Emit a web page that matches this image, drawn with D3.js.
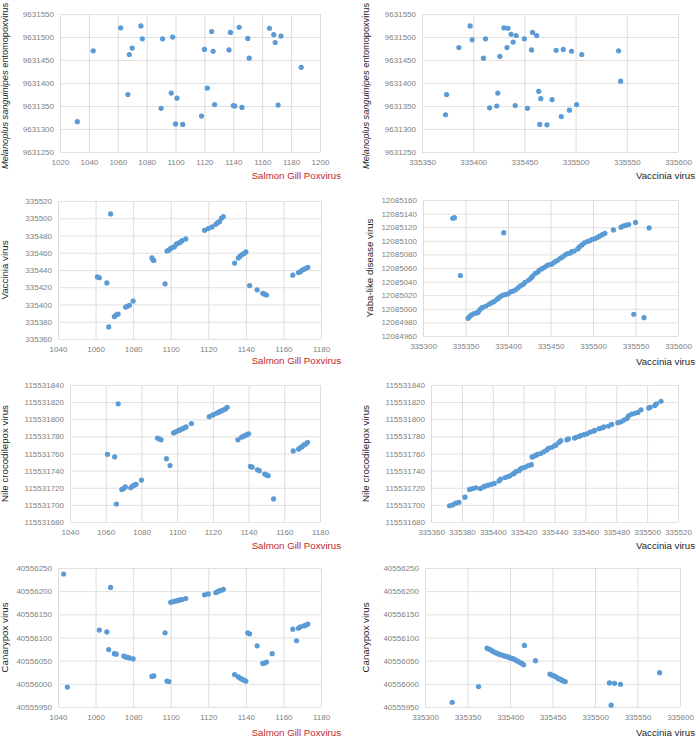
<!DOCTYPE html>
<html><head><meta charset="utf-8">
<script src="https://cdn.jsdelivr.net/npm/d3@7/dist/d3.min.js"></script>
<style>
html,body{margin:0;padding:0;background:#fff;}
svg{display:block;}
.tick-label{font-family:"Liberation Sans",Arial,sans-serif;font-size:8px;fill:#7f7f7f;}
.axis-title{font-family:"Liberation Sans",Arial,sans-serif;font-size:9.7px;}
</style>
</head><body>
<script>
// ---------- DATA ----------
// Panel 1: Salmon Gill Poxvirus vs Melanoplus sanguinipes entomopoxvirus
const p1Salmon = [1032,1043,1062,1067,1068,1070,1076,1077,1090,1091,1097,1098,1100,1101,1105,1118,1120,1122,1125,1126,1127,1137,1138,1140,1141,1144,1146,1150,1151,1165,1168,1169,1171,1173,1187];
const p1Melanoplus = [9631316,9631470,9631520,9631375,9631462,9631476,9631524,9631496,9631345,9631496,9631378,9631500,9631311,9631367,9631310,9631328,9631473,9631389,9631512,9631469,9631353,9631472,9631510,9631351,9631350,9631521,9631347,9631497,9631454,9631519,9631505,9631488,9631352,9631502,9631434];

// Panel 2: Vaccinia virus vs Melanoplus sanguinipes entomopoxvirus
const p2Vaccinia = [335373,335374,335386,335397,335399,335410,335412,335416,335423,335424,335426,335430,335433,335434,335437,335439,335441,335442,335450,335453,335457,335458,335462,335464,335465,335466,335472,335477,335481,335486,335488,335494,335496,335501,335506,335542,335544];
const p2Melanoplus = [9631331,9631375,9631477,9631524,9631494,9631454,9631496,9631346,9631350,9631378,9631458,9631520,9631477,9631519,9631506,9631489,9631351,9631503,9631496,9631345,9631472,9631510,9631503,9631382,9631310,9631366,9631309,9631364,9631471,9631327,9631473,9631341,9631469,9631353,9631462,9631470,9631404];

// Panel 3: Salmon Gill Poxvirus vs Vaccinia virus
const p3Salmon = [1068,1061,1062,1066,1067,1070,1071,1072,1076,1077,1078,1080,1090,1090.5,1091,1097,1098,1099,1100,1101,1102,1103,1104,1105,1106,1108,1118,1120,1122,1124,1125,1126,1127,1128,1134,1136,1137,1138,1139,1140,1142,1146,1149,1150,1151,1165,1168,1169,1170,1171,1172,1173];
const p3Vaccinia = [335505,335432,335431,335425,335374,335386,335388,335389,335397,335398,335399,335404,335454,335452,335451,335424,335462,335463,335465,335466,335467,335470,335471,335472,335474,335476,335486,335488,335490,335493,335495,335496,335500,335502,335448,335454,335456,335458,335459,335461,335422,335417,335413,335412,335411,335434,335437,335438,335440,335441,335442,335443];

// Panel 4: Vaccinia virus vs Yaba-like disease virus
const p4Vaccinia = [335335,335337,335344,335395,335353,335355,335357,335360,335363,335365,335367,335369,335370,335374,335378,335381,335384,335387,335389,335391,335394,335397,335400,335403,335406,335409,335412,335415,335418,335420,335424,335427,335429,335432,335435,335437,335440,335443,335446,335449,335452,335455,335458,335461,335464,335467,335470,335473,335475,335478,335482,335484,335487,335490,335493,335496,335499,335502,335505,335508,335511,335514,335524,335533,335536,335539,335542,335550,335566,335548,335560];
const p4Yaba = [12085133,12085134,12085049,12085112,12084986,12084989,12084991,12084993,12084994,12084995,12084999,12085001,12085002,12085004,12085007,12085009,12085011,12085014,12085016,12085018,12085020,12085021,12085022,12085025,12085026,12085028,12085031,12085034,12085036,12085039,12085042,12085045,12085048,12085052,12085054,12085057,12085059,12085061,12085064,12085065,12085066,12085069,12085071,12085074,12085076,12085079,12085081,12085082,12085084,12085085,12085088,12085091,12085094,12085097,12085099,12085100,12085102,12085103,12085105,12085107,12085109,12085111,12085116,12085120,12085122,12085123,12085124,12085127,12085119,12084992,12084987];

// Panel 5: Salmon Gill Poxvirus vs Nile crocodilepox virus
const p5Salmon = [1067,1061,1065,1066,1069,1070,1071,1074,1075,1076,1077,1080,1089,1090,1091,1094,1096,1098,1099,1100,1101,1102,1103,1104,1105,1108,1118,1120,1122,1123,1124,1125,1126,1127,1128,1134,1136,1137,1138,1139,1140,1141,1142,1145,1146,1149,1150,1151,1154,1165,1168,1169,1170,1171,1172,1173];
const p5Nile = [115531818,115531759,115531756,115531701,115531718,115531719,115531721,115531720,115531722,115531723,115531724,115531729,115531778,115531777,115531776,115531754,115531746,115531784,115531785,115531786,115531787,115531788,115531789,115531790,115531791,115531795,115531803,115531805,115531807,115531808,115531809,115531810,115531811,115531812,115531814,115531776,115531779,115531780,115531781,115531782,115531783,115531745,115531744,115531741,115531740,115531736,115531735,115531734,115531707,115531763,115531765,115531767,115531768,115531770,115531771,115531773];

// Panel 6: Vaccinia virus vs Nile crocodilepox virus
const p6Vaccinia = [335372,335374,335376,335378,335382,335385,335387,335389,335392,335394,335395,335397,335399,335401,335404,335405,335408,335410,335411,335413,335414,335415,335417,335418,335419,335421,335423,335425,335425.5,335427,335428,335429,335431,335433,335435,335436,335438,335440,335441,335443,335444,335448,335449,335453,335454,335456,335457,335459,335461,335463,335465,335466,335469,335471,335472,335475,335477,335481,335483,335485,335487,335488,335490,335492,335494,335496,335501,335502,335505,335506,335509];
const p6Nile = [115531699,115531700,115531702,115531703,115531709,115531718,115531719,115531720,115531719,115531721,115531722,115531723,115531724,115531725,115531728,115531730,115531732,115531733,115531734,115531736,115531737,115531739,115531740,115531742,115531743,115531744,115531746,115531747,115531756,115531757,115531758,115531759,115531760,115531762,115531764,115531766,115531767,115531769,115531770,115531773,115531775,115531776,115531777,115531778,115531779,115531780,115531781,115531782,115531783,115531785,115531786,115531787,115531789,115531790,115531791,115531792,115531794,115531796,115531797,115531799,115531801,115531804,115531806,115531807,115531808,115531811,115531813,115531814,115531816,115531818,115531821];

// Panel 7: Salmon Gill Poxvirus vs Canarypox virus
const p7Salmon = [1043,1045,1068,1062,1066,1067,1070,1071,1075,1076,1077,1078,1080,1090,1091,1097,1098,1099,1100,1101,1102,1103,1104,1105,1106,1108,1118,1120,1124,1125,1126,1127,1128,1134,1136,1137,1138,1139,1140,1141,1142,1146,1149,1150,1151,1154,1165,1167,1168,1169,1171,1172,1173];
const p7Canarypox = [40556237,40555993,40556208,40556116,40556112,40556074,40556065,40556064,40556060,40556058,40556057,40556056,40556054,40556016,40556017,40556110,40556006,40556005,40556176,40556177,40556178,40556179,40556180,40556181,40556182,40556184,40556192,40556194,40556197,40556199,40556201,40556202,40556204,40556020,40556015,40556012,40556010,40556008,40556006,40556110,40556108,40556082,40556044,40556045,40556047,40556065,40556118,40556093,40556120,40556123,40556125,40556127,40556129];

// Panel 8: Vaccinia virus vs Canarypox virus
const p8Vaccinia = [335332,335363,335373,335375,335377,335379,335381,335383,335385,335387,335389,335392,335394,335396,335398,335400,335402,335404,335406,335408,335410,335412,335414,335416,335417,335430,335447,335449,335451,335453,335455,335457,335459,335461,335463,335465,335517,335523,335530,335519,335576];
const p8Canarypox = [40555960,40555994,40556077,40556075,40556074,40556071,40556069,40556067,40556066,40556064,40556063,40556061,40556060,40556059,40556058,40556056,40556055,40556054,40556052,40556050,40556048,40556046,40556044,40556041,40556083,40556050,40556021,40556019,40556018,40556016,40556014,40556011,40556010,40556008,40556006,40556005,40556002,40556001,40555999,40555954,40556024];

// Tick values
const ticksSalmonA = [1020,1040,1060,1080,1100,1120,1140,1160,1180,1200];
const ticksSalmonB = [1040,1060,1080,1100,1120,1140,1160,1180];
const ticksVacc50a = [335350,335400,335450,335500,335550,335600];
const ticksVacc50b = [335300,335350,335400,335450,335500,335550,335600];
const ticksVacc20 = [335360,335380,335400,335420,335440,335460,335480,335500,335520];
const ticksMelanoplus = [9631250,9631300,9631350,9631400,9631450,9631500,9631550];
const ticksVaccY = [335360,335380,335400,335420,335440,335460,335480,335500,335520];
const ticksYaba = [12084960,12084980,12085000,12085020,12085040,12085060,12085080,12085100,12085120,12085140,12085160];
const ticksNile = [115531680,115531700,115531720,115531740,115531760,115531780,115531800,115531820,115531840];
const ticksCanary = [40555950,40556000,40556050,40556100,40556150,40556200,40556250];

// Axis titles
const titleSalmon = "Salmon Gill Poxvirus";
const titleVaccinia = "Vaccinia virus";
const titleYaba = "Yaba-like disease virus";
const titleNile = "Nile crocodilepox virus";
const titleCanary = "Canarypox virus";
const titleMelItalic = "Melanoplus sanguinipes";
const titleMelRest = " entomopoxvirus";

// ---------- LAYOUT ----------
const W = 696, H = 738;
const RED = "#c0282d", DARK = "#262626", BLUE = "#5b9bd5";

const panels = [
  {xs:p1Salmon, ys:p1Melanoplus, xt:ticksSalmonA, yt:ticksMelanoplus, box:[60,14,320,152], xTitle:titleSalmon, xCol:RED, xTitleX:341, xTitleY:179, yTitle:null, yTitleX:7.5, mel:true},
  {xs:p2Vaccinia, ys:p2Melanoplus, xt:ticksVacc50a, yt:ticksMelanoplus, box:[422,14,678,152], xTitle:titleVaccinia, xCol:DARK, xTitleX:695, xTitleY:179, yTitle:null, yTitleX:368.5, mel:true},
  {xs:p3Salmon, ys:p3Vaccinia, xt:ticksSalmonB, yt:ticksVaccY, box:[58,201,321,339], xTitle:titleSalmon, xCol:RED, xTitleX:341, xTitleY:364, yTitle:titleVaccinia, yTitleX:7.5},
  {xs:p4Vaccinia, ys:p4Yaba, xt:ticksVacc50b, yt:ticksYaba, box:[423,200,678,336], xTitle:titleVaccinia, xCol:DARK, xTitleX:695, xTitleY:365, yTitle:titleYaba, yTitleX:373},
  {xs:p5Salmon, ys:p5Nile, xt:ticksSalmonB, yt:ticksNile, box:[70,385,320,522], xTitle:titleSalmon, xCol:RED, xTitleX:341, xTitleY:549, yTitle:titleNile, yTitleX:7.5},
  {xs:p6Vaccinia, ys:p6Nile, xt:ticksVacc20, yt:ticksNile, box:[431,385,678,522], xTitle:titleVaccinia, xCol:DARK, xTitleX:695, xTitleY:549, yTitle:titleNile, yTitleX:369},
  {xs:p7Salmon, ys:p7Canarypox, xt:ticksSalmonB, yt:ticksCanary, box:[58,568,321,707], xTitle:titleSalmon, xCol:RED, xTitleX:341, xTitleY:736, yTitle:titleCanary, yTitleX:7.5},
  {xs:p8Vaccinia, ys:p8Canarypox, xt:ticksVacc50b, yt:ticksCanary, box:[425,568,680,707], xTitle:titleVaccinia, xCol:DARK, xTitleX:695, xTitleY:736, yTitle:titleCanary, yTitleX:369}
];

const svg = d3.select("body").append("svg").attr("width", W).attr("height", H);

panels.forEach(p => {
  const [l,t,r,b] = p.box;
  const x = d3.scaleLinear().domain(d3.extent(p.xt)).range([l, r]);
  const y = d3.scaleLinear().domain(d3.extent(p.yt)).range([b, t]);
  const g = svg.append("g");

  // gridlines
  const xAxis = d3.axisBottom(x).tickValues(p.xt).tickSize(-(b - t)).tickPadding(7).tickFormat(d3.format("d"));
  const yAxis = d3.axisLeft(y).tickValues(p.yt).tickSize(-(r - l)).tickPadding(6).tickFormat(d3.format("d"));

  const gx = g.append("g").attr("transform", `translate(0,${b})`).call(xAxis);
  const gy = g.append("g").attr("transform", `translate(${l},0)`).call(yAxis);
  [gx, gy].forEach(ax => {
    ax.select(".domain").remove();
    ax.selectAll(".tick line").attr("stroke", "#e1e1e1").attr("stroke-width", 1);
    ax.selectAll(".tick text").attr("class", "tick-label").attr("font-family", null).attr("font-size", null).attr("fill", null);
  });
  gx.selectAll(".tick line").attr("stroke", "#dcdcdc");

  // points
  g.append("g").selectAll("circle")
    .data(p.xs.map((v, i) => [v, p.ys[i]]))
    .join("circle")
    .attr("cx", d => x(d[0]))
    .attr("cy", d => y(d[1]))
    .attr("r", 2.6)
    .attr("fill", BLUE);

  // x title
  g.append("text").attr("class", "axis-title")
    .attr("x", p.xTitleX).attr("y", p.xTitleY)
    .attr("text-anchor", "end").attr("fill", p.xCol)
    .text(p.xTitle);

  // y title
  const cy = p.mel ? (t + b) / 2 + 3 : (t + b) / 2;
  const yt = g.append("text").attr("class", "axis-title")
    .attr("transform", `translate(${p.yTitleX},${cy}) rotate(-90)`)
    .attr("text-anchor", "middle").attr("fill", DARK);
  if (p.mel) {
    yt.style("font-size", "9.2px");
    yt.append("tspan").attr("font-style", "italic").text(titleMelItalic);
    yt.append("tspan").text(titleMelRest);
  } else {
    yt.text(p.yTitle);
  }
});
</script>
</body></html>
